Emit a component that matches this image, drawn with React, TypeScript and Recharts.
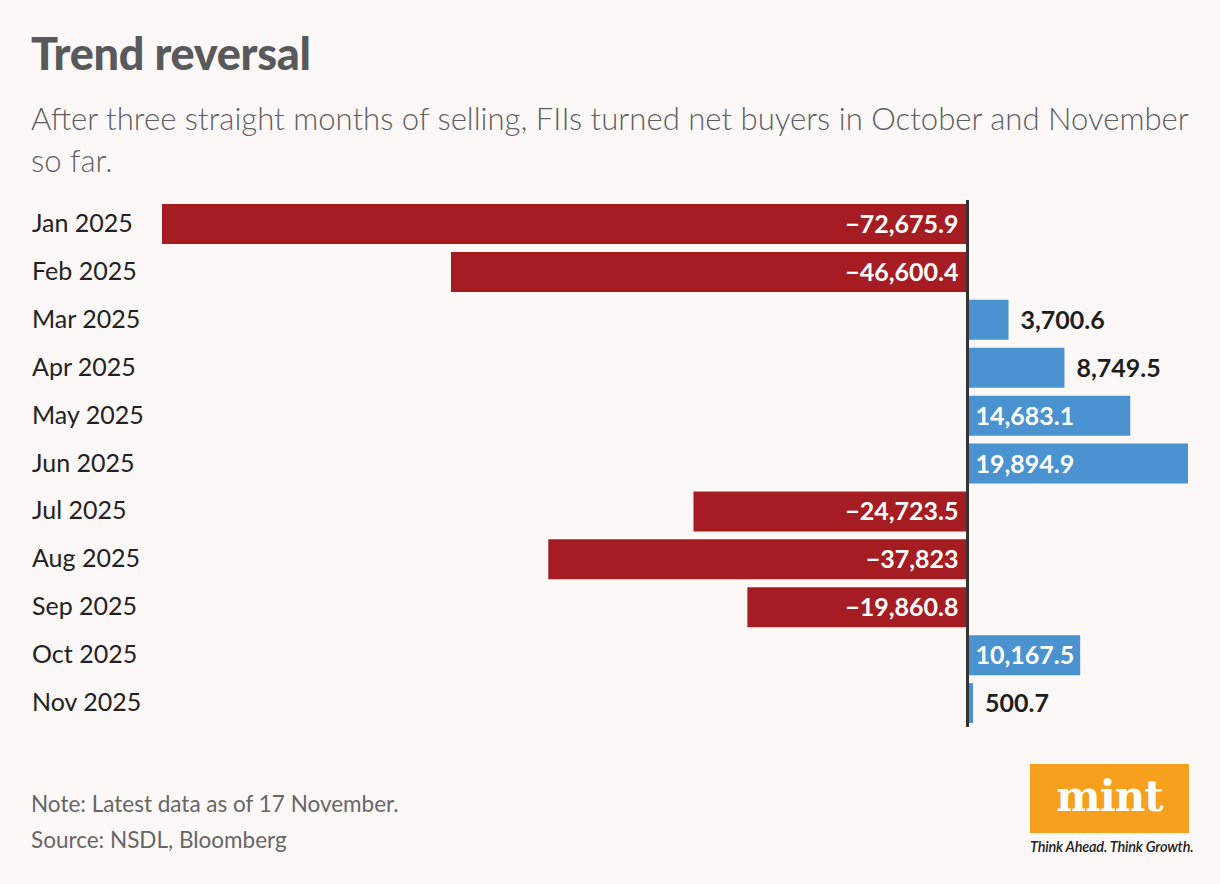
import { BarChart, Bar, XAxis, YAxis, Cell, LabelList, ReferenceLine } from 'recharts';

const months = [
  'Jan 2025', 'Feb 2025', 'Mar 2025', 'Apr 2025', 'May 2025', 'Jun 2025',
  'Jul 2025', 'Aug 2025', 'Sep 2025', 'Oct 2025', 'Nov 2025',
];
const netFlows = [
  -72675.9, -46600.4, 3700.6, 8749.5, 14683.1, 19894.9,
  -24723.5, -37823, -19860.8, 10167.5, 500.7,
];

const data = months.map((month, i) => ({ month, value: netFlows[i] }));

const FONT = 'Lato, "Open Sans", sans-serif';
const RED = '#a51d23';
const BLUE = '#4b92d0';

const fmt = (v: number) =>
  v.toLocaleString('en-US', { maximumFractionDigits: 1 }).replace('-', '\u2212');

const MonthTick = ({ y, payload }: any) => (
  <text x={32} y={y} dy={8} textAnchor="start" fontSize={25} fill="#222" fontFamily={FONT}>
    {payload.value}
  </text>
);

const ValueLabel = ({ x, y, width, height, value }: any) => {
  const left = Math.min(x, x + width);
  const right = Math.max(x, x + width);
  const cy = y + height / 2 + 9;
  let tx = right + 12;
  let anchor = 'start';
  let fill = '#1e1e1e';
  if (value < 0) {
    tx = right - 9;
    anchor = 'end';
    fill = '#fff';
  } else if (value >= 10000) {
    tx = left + 8;
    fill = '#fff';
  }
  return (
    <text x={tx} y={cy} textAnchor={anchor} fontSize={25} fontWeight={700} fill={fill} fontFamily={FONT}>
      {fmt(value)}
    </text>
  );
};

export default function App() {
  return (
    <div style={{ position: 'relative', width: 1220, height: 884, background: '#fdf8f8', fontFamily: FONT, overflow: 'hidden' }}>
      <style>{'body{margin:0}'}</style>
      <div style={{ position: 'absolute', left: 31, top: 26, fontSize: 45, fontWeight: 900, color: '#58595b', letterSpacing: -0.3 }}>
        Trend reversal
      </div>
      <div style={{ position: 'absolute', left: 31, top: 97, fontSize: 31.1, lineHeight: '42px', color: '#5e5f61', fontWeight: 300, whiteSpace: 'nowrap' }}>
        After three straight months of selling, FIIs turned net buyers in October and November
        <br />
        so far.
      </div>

      <div style={{ position: 'absolute', left: 0, top: 200 }}>
        <BarChart
          width={1220}
          height={527}
          layout="vertical"
          data={data}
          margin={{ top: 0, right: 32, left: 0, bottom: 0 }}
        >
          <XAxis type="number" domain={[-72675.9, 19894.9]} hide />
          <YAxis
            type="category"
            dataKey="month"
            width={162}
            axisLine={false}
            tickLine={false}
            tick={<MonthTick />}
          />
          <Bar dataKey="value" barSize={40} isAnimationActive={false}>
            {data.map((d, i) => (
              <Cell key={i} fill={d.value < 0 ? RED : BLUE} />
            ))}
            <LabelList dataKey="value" content={<ValueLabel />} />
          </Bar>
          <ReferenceLine x={0} stroke="#333" strokeWidth={3} />
        </BarChart>
      </div>

      <div style={{ position: 'absolute', left: 31, top: 786, fontSize: 22.5, color: '#666', lineHeight: '36px' }}>
        Note: Latest data as of 17 November.
        <br />
        Source: NSDL, Bloomberg
      </div>

      <div style={{ position: 'absolute', left: 1030, top: 764, width: 159, height: 69, background: '#f7a01d', display: 'flex', alignItems: 'center', justifyContent: 'center' }}>
        <span style={{ fontFamily: '"DejaVu Serif", serif', fontWeight: 700, fontSize: 42, color: '#fff', letterSpacing: -1, marginTop: -4 }}>
          mint
        </span>
      </div>
      <div style={{ position: 'absolute', left: 1030, top: 838, fontSize: 14.5, fontStyle: 'italic', fontWeight: 600, color: '#222', whiteSpace: 'nowrap', letterSpacing: -0.2 }}>
        Think Ahead. Think Growth.
      </div>
    </div>
  );
}
